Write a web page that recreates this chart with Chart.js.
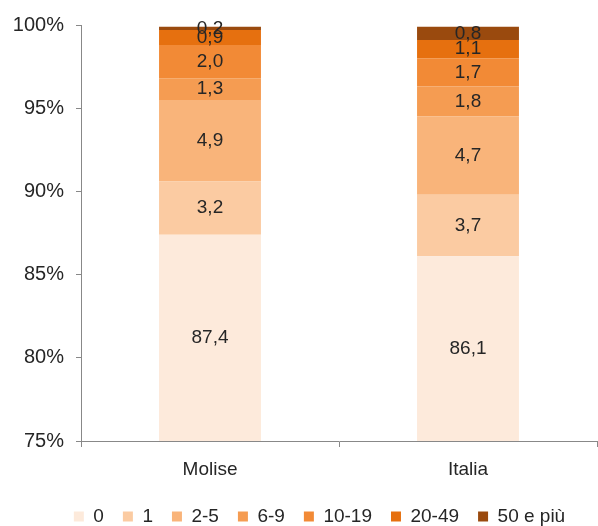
<!DOCTYPE html>
<html>
<head>
<meta charset="utf-8">
<script src="https://cdn.jsdelivr.net/npm/chart.js@4.4.1/dist/chart.umd.min.js"></script>
<style>
  html, body { margin: 0; padding: 0; background: #fff; }
  #wrap { width: 598px; height: 526px; }
</style>
</head>
<body>
<div id="wrap"><canvas id="c" width="598" height="526"></canvas></div>
<script>
// Areas shown on the category axis
const categories = ['Molise', 'Italia'];

// Classes (size bands) stacked from the bottom up
const classes = ['0', '1', '2-5', '6-9', '10-19', '20-49', '50 e più'];

// Percentage share of each class, one array per class: [Molise, Italia]
const share0      = [87.4, 86.1];
const share1      = [3.2, 3.7];
const share2to5   = [4.9, 4.7];
const share6to9   = [1.3, 1.8];
const share10to19 = [2.0, 1.7];
const share20to49 = [0.9, 1.1];
const share50plus = [0.2, 0.8];

// Y axis tick values (percent)
const yTicks = [75, 80, 85, 90, 95, 100];

const seriesValues = [share0, share1, share2to5, share6to9, share10to19, share20to49, share50plus];
const seriesColors = ['#fdeadb', '#fbcba2', '#f9b47a', '#f59c52', '#f28a36', '#e6700f', '#9a4a0e'];

const FONT = '"Liberation Sans", Arial, sans-serif';
const fmt = v => v.toFixed(1).replace('.', ',');

// Writes each segment's value at its centre
const segmentLabels = {
  id: 'segmentLabels',
  afterDatasetsDraw(chart) {
    const ctx = chart.ctx;
    ctx.save();
    ctx.font = '19px ' + FONT;
    ctx.fillStyle = '#262626';
    ctx.textAlign = 'center';
    ctx.textBaseline = 'middle';
    chart.data.datasets.forEach((ds, di) => {
      const meta = chart.getDatasetMeta(di);
      meta.data.forEach((bar, i) => {
        const top = Math.max(bar.y, chart.chartArea.top);
        const bottom = Math.min(bar.base, chart.chartArea.bottom);
        ctx.fillText(fmt(ds.data[i]), bar.x, (top + bottom) / 2);
      });
    });
    ctx.restore();
  }
};

// Nudges the legend row a little right and down
const legendOffset = {
  id: 'legendOffset',
  afterLayout(chart) {
    const lg = chart.legend;
    if (!lg) return;
    const dx = 21, dy = 10;
    lg.left += dx; lg.right += dx;
    lg.top += dy; lg.bottom += dy;
    if (lg.legendHitBoxes) lg.legendHitBoxes.forEach(b => { b.left += dx; b.top += dy; });
  }
};

new Chart(document.getElementById('c'), {
  type: 'bar',
  data: {
    labels: categories,
    datasets: classes.map((name, k) => ({
      label: name,
      data: seriesValues[k],
      backgroundColor: seriesColors[k],
      borderWidth: 0,
      categoryPercentage: 1,
      barPercentage: 0.395
    }))
  },
  options: {
    responsive: false,
    animation: false,
    layout: { padding: { top: 25, right: 1, left: 0, bottom: 0 } },
    plugins: {
      tooltip: { enabled: false },
      legend: {
        position: 'bottom',
        labels: {
          font: { family: FONT, size: 19 },
          color: '#262626',
          boxWidth: 10,
          boxHeight: 10,
          padding: 19
        }
      }
    },
    scales: {
      x: {
        stacked: true,
        afterFit(scale) {
          const lh = scale.chart.legend ? scale.chart.legend.height : 0;
          scale.height = Math.max(20, scale.chart.height - lh - 441);
        },
        grid: { display: true, drawOnChartArea: false, offset: true, color: '#888', tickLength: 6 },
        border: { color: '#888', width: 1 },
        ticks: { color: '#262626', font: { family: FONT, size: 19 }, padding: 11 }
      },
      y: {
        stacked: true,
        min: 75,
        max: 100,
        afterFit(scale) { scale.width = 81; },
        afterBuildTicks(scale) { scale.ticks = yTicks.map(v => ({ value: v })); },
        grid: { display: true, drawOnChartArea: false, color: '#888', tickLength: 5 },
        border: { color: '#888', width: 1 },
        ticks: {
          color: '#262626',
          font: { family: FONT, size: 20 },
          padding: 12,
          callback: v => v + '%'
        }
      }
    }
  },
  plugins: [segmentLabels, legendOffset]
});
</script>
</body>
</html>
